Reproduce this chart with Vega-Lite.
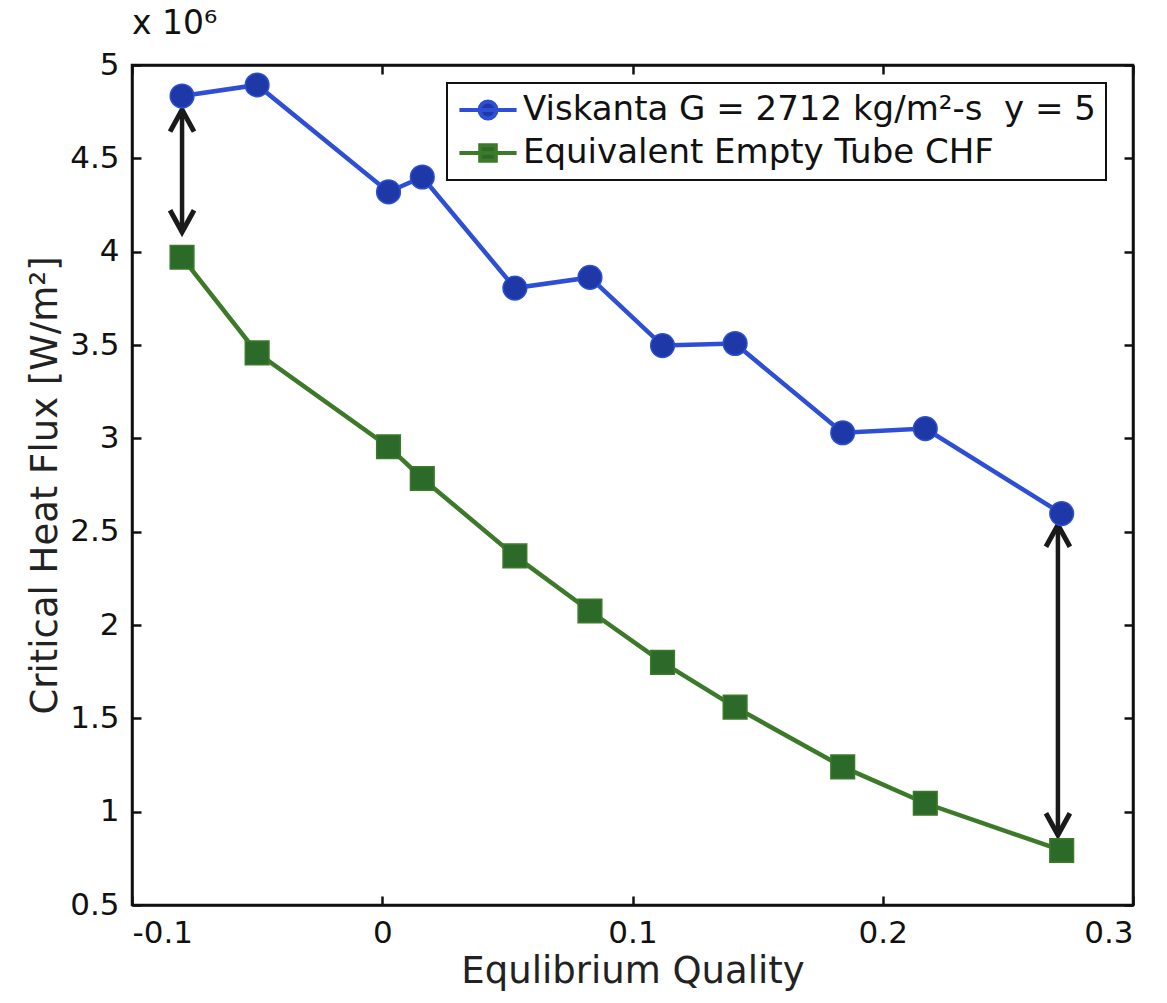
{
  "$schema": "https://vega.github.io/schema/vega-lite/v6.json",
  "autosize": {"type": "none"},
  "padding": {"left": 132, "top": 65, "right": 34, "bottom": 98},
  "width": 1001,
  "height": 840,
  "background": "white",
  "title": {"text": "x 10⁶", "anchor": "start", "frame": "group", "font": "DejaVu Sans", "fontSize": 33, "fontWeight": "normal", "color": "#111", "offset": 8},
  "config": {
    "view": {"stroke": "#111", "strokeWidth": 2.5},
    "axis": {"grid": false, "domainColor": "#111", "domainWidth": 2.5, "tickColor": "#111", "tickWidth": 2.5, "labelFont": "DejaVu Sans", "labelFontSize": 31, "labelColor": "#111", "titleFont": "DejaVu Sans", "titleFontSize": 37, "titleFontWeight": "normal", "titleColor": "#222"}
  },
  "datasets": {
    "chf": [
      {"quality": -0.080, "flux": 4834000, "series": "Viskanta G = 2712 kg/m²-s  y = 5"},
      {"quality": -0.050, "flux": 4893000, "series": "Viskanta G = 2712 kg/m²-s  y = 5"},
      {"quality": 0.0025, "flux": 4320000, "series": "Viskanta G = 2712 kg/m²-s  y = 5"},
      {"quality": 0.016, "flux": 4400000, "series": "Viskanta G = 2712 kg/m²-s  y = 5"},
      {"quality": 0.053, "flux": 3805000, "series": "Viskanta G = 2712 kg/m²-s  y = 5"},
      {"quality": 0.083, "flux": 3862000, "series": "Viskanta G = 2712 kg/m²-s  y = 5"},
      {"quality": 0.112, "flux": 3497000, "series": "Viskanta G = 2712 kg/m²-s  y = 5"},
      {"quality": 0.141, "flux": 3508000, "series": "Viskanta G = 2712 kg/m²-s  y = 5"},
      {"quality": 0.184, "flux": 3030000, "series": "Viskanta G = 2712 kg/m²-s  y = 5"},
      {"quality": 0.217, "flux": 3052000, "series": "Viskanta G = 2712 kg/m²-s  y = 5"},
      {"quality": 0.2715, "flux": 2597000, "series": "Viskanta G = 2712 kg/m²-s  y = 5"},
      {"quality": -0.080, "flux": 3970000, "series": "Equivalent Empty Tube CHF"},
      {"quality": -0.050, "flux": 3458000, "series": "Equivalent Empty Tube CHF"},
      {"quality": 0.0025, "flux": 2955000, "series": "Equivalent Empty Tube CHF"},
      {"quality": 0.016, "flux": 2785000, "series": "Equivalent Empty Tube CHF"},
      {"quality": 0.053, "flux": 2370000, "series": "Equivalent Empty Tube CHF"},
      {"quality": 0.083, "flux": 2075000, "series": "Equivalent Empty Tube CHF"},
      {"quality": 0.112, "flux": 1800000, "series": "Equivalent Empty Tube CHF"},
      {"quality": 0.141, "flux": 1560000, "series": "Equivalent Empty Tube CHF"},
      {"quality": 0.184, "flux": 1240000, "series": "Equivalent Empty Tube CHF"},
      {"quality": 0.217, "flux": 1045000, "series": "Equivalent Empty Tube CHF"},
      {"quality": 0.2715, "flux": 792000, "series": "Equivalent Empty Tube CHF"}
    ],
    "arrows": [
      {"quality": -0.080, "top": 4760000, "bottom": 4105000},
      {"quality": 0.270, "top": 2536000, "bottom": 875000}
    ],
    "heads": [
      {"quality": -0.080, "flux": 4760000, "dir": "up"},
      {"quality": -0.080, "flux": 4105000, "dir": "down"},
      {"quality": 0.270, "flux": 2536000, "dir": "up"},
      {"quality": 0.270, "flux": 875000, "dir": "down"}
    ]
  },
  "resolve": {"axis": {"x": "independent", "y": "independent"}, "scale": {"shape": "independent"}},
  "layer": [
    {
      "data": {"name": "arrows"},
      "mark": {"type": "rule", "stroke": "#1a1a1a", "strokeWidth": 4.5},
      "encoding": {
        "x": {"field": "quality", "type": "quantitative", "scale": {"domain": [-0.1, 0.3], "nice": false, "zero": false},
              "axis": {"orient": "top", "labels": false, "title": null, "values": [-0.1, 0, 0.1, 0.2, 0.3], "tickSize": -9}},
        "y": {"field": "top", "type": "quantitative", "scale": {"domain": [500000, 5000000], "nice": false, "zero": false},
              "axis": {"orient": "right", "labels": false, "title": null, "values": [500000, 1000000, 1500000, 2000000, 2500000, 3000000, 3500000, 4000000, 4500000, 5000000], "tickSize": -9}},
        "y2": {"field": "bottom"}
      }
    },
    {
      "data": {"name": "heads"},
      "mark": {"type": "point", "filled": false, "stroke": "#1a1a1a", "strokeWidth": 5, "size": 1900, "opacity": 1, "strokeJoin": "miter", "strokeCap": "butt"},
      "encoding": {
        "x": {"field": "quality", "type": "quantitative", "axis": null},
        "y": {"field": "flux", "type": "quantitative", "axis": null},
        "shape": {"field": "dir", "type": "nominal", "legend": null,
                  "scale": {"domain": ["up", "down"], "range": ["M -0.55 1 L 0 0 L 0.55 1", "M -0.55 -1 L 0 0 L 0.55 -1"]}}
      }
    },
    {
      "data": {"name": "chf"},
      "mark": {"type": "line", "strokeWidth": 4.5},
      "encoding": {
        "x": {"field": "quality", "type": "quantitative", "title": "Equlibrium Quality",
              "axis": {"values": [-0.1, 0, 0.1, 0.2, 0.3], "tickSize": -9, "labelPadding": 22, "titlePadding": 5, "labelExpr": "datum.value == 0 ? '0' : replace(format(datum.value, '.1f'), '−', '-')"}},
        "y": {"field": "flux", "type": "quantitative", "title": "Critical Heat Flux [W/m²]",
              "axis": {"values": [500000, 1000000, 1500000, 2000000, 2500000, 3000000, 3500000, 4000000, 4500000, 5000000], "tickSize": -9, "labelPadding": 22, "titlePadding": 5, "labelExpr": "format(datum.value / 1000000, '')"}},
        "color": {"field": "series", "type": "nominal",
                  "scale": {"domain": ["Viskanta G = 2712 kg/m²-s  y = 5", "Equivalent Empty Tube CHF"], "range": ["#2d4fd6", "#3c7a2a"]},
                  "legend": {"orient": "none", "legendX": 315, "legendY": 18, "title": null,
                             "labelFont": "DejaVu Sans", "labelFontSize": 34, "labelColor": "#111", "labelLimit": 900,
                             "labelExpr": "replace(datum.label, '-s  y', '-s\u00a0\u00a0y')",
                             "strokeColor": "#111", "fillColor": "white", "padding": 10,
                             "symbolSize": 676, "symbolOffset": 14, "labelOffset": 18, "rowPadding": 9,
                             "encode": {
                               "legend": {"update": {"strokeWidth": {"value": 2}}},
                               "symbols": {"update": {
                               "shape": {"signal": "datum.value === 'Equivalent Empty Tube CHF' ? 'M -2.2 0 L 2.2 0 M -0.6 -0.6 L 0.6 -0.6 L 0.6 0.6 L -0.6 0.6 Z' : 'M -2.2 0 L 2.2 0 M -0.65 0 A 0.65 0.65 0 1 0 0.65 0 A 0.65 0.65 0 1 0 -0.65 0'"},
                               "fill": {"signal": "datum.value === 'Equivalent Empty Tube CHF' ? '#2c6a2a' : '#1e38a8'"},
                               "stroke": {"signal": "datum.value === 'Equivalent Empty Tube CHF' ? '#3c7a2a' : '#2d4fd6'"},
                               "strokeWidth": {"value": 4},
                               "opacity": {"value": 1}
                             }}}}}
      }
    },
    {
      "data": {"name": "chf"},
      "mark": {"type": "point", "filled": true, "size": 560, "opacity": 1, "strokeWidth": 1.5},
      "encoding": {
        "x": {"field": "quality", "type": "quantitative", "axis": null},
        "y": {"field": "flux", "type": "quantitative", "axis": null},
        "shape": {"field": "series", "type": "nominal", "legend": null,
                  "scale": {"domain": ["Viskanta G = 2712 kg/m²-s  y = 5", "Equivalent Empty Tube CHF"], "range": ["circle", "square"]}},
        "fill": {"field": "series", "type": "nominal", "legend": null,
                 "scale": {"domain": ["Viskanta G = 2712 kg/m²-s  y = 5", "Equivalent Empty Tube CHF"], "range": ["#1e38a8", "#2c6a2a"]}},
        "stroke": {"field": "series", "type": "nominal", "legend": null,
                 "scale": {"domain": ["Viskanta G = 2712 kg/m²-s  y = 5", "Equivalent Empty Tube CHF"], "range": ["#2d4fd6", "#3c7a2a"]}}
      }
    }
  ]
}
